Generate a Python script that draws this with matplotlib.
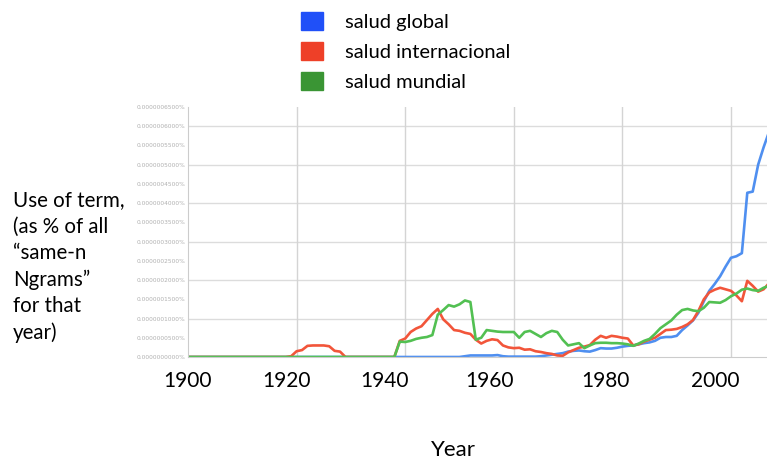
import matplotlib
matplotlib.use('Agg')
import numpy as np
import matplotlib.pyplot as plt
from matplotlib.patches import Patch

# Values in units of 0.0000001 % (one major gridline)
years = list(range(1900, 2008))

global_vals = [0.0] * 51 + [
    0.02, 0.04, 0.04, 0.04, 0.04, 0.04, 0.05, 0.02, 0.01, 0.01,   # 1951-1960
    0.01, 0.01, 0.01, 0.01, 0.02, 0.04, 0.06, 0.08, 0.10, 0.14,   # 1961-1970
    0.16, 0.17, 0.15, 0.14, 0.18, 0.23, 0.22, 0.22, 0.24, 0.27,   # 1971-1980
    0.29, 0.30, 0.33, 0.36, 0.38, 0.42, 0.50, 0.52, 0.52, 0.55,   # 1981-1990
    0.70, 0.82, 0.95, 1.15, 1.45, 1.72, 1.90, 2.10, 2.35, 2.58,   # 1991-2000
    2.62, 2.70, 4.27, 4.30, 5.00, 5.45, 5.85]                     # 2001-2007

internacional_vals = [0.0] * 19 + [
    0.02, 0.15, 0.18, 0.29, 0.30, 0.30, 0.30, 0.28, 0.16, 0.14,   # 1919-1928
    0.0, 0.0, 0.0, 0.0, 0.0, 0.0, 0.0, 0.0, 0.0, 0.0,             # 1929-1938
    0.42, 0.48, 0.65, 0.74, 0.80, 0.96, 1.12, 1.25, 0.98, 0.85,   # 1939-1948
    0.70, 0.68, 0.63, 0.60, 0.45, 0.35, 0.42, 0.46, 0.44, 0.30,   # 1949-1958
    0.25, 0.23, 0.24, 0.19, 0.20, 0.15, 0.13, 0.10, 0.08, 0.04,   # 1959-1968
    0.03, 0.12, 0.18, 0.24, 0.27, 0.31, 0.45, 0.55, 0.50, 0.55,   # 1969-1978
    0.53, 0.50, 0.48, 0.30, 0.33, 0.40, 0.45, 0.50, 0.60, 0.70,   # 1979-1988
    0.71, 0.73, 0.78, 0.85, 0.96, 1.20, 1.50, 1.68, 1.75, 1.80,   # 1989-1998
    1.76, 1.72, 1.60, 1.45, 1.98, 1.85, 1.70, 1.76, 1.92]         # 1999-2007

mundial_vals = [0.0] * 39 + [
    0.40, 0.39, 0.42, 0.47, 0.50, 0.52, 0.57, 1.10, 1.22, 1.35,   # 1939-1948
    1.31, 1.37, 1.47, 1.43, 0.45, 0.50, 0.70, 0.68, 0.66, 0.65,   # 1949-1958
    0.65, 0.65, 0.50, 0.65, 0.68, 0.60, 0.52, 0.62, 0.68, 0.65,   # 1959-1968
    0.45, 0.30, 0.33, 0.36, 0.23, 0.30, 0.36, 0.37, 0.37, 0.36,   # 1969-1978
    0.36, 0.35, 0.33, 0.29, 0.35, 0.42, 0.47, 0.60, 0.75, 0.85,   # 1979-1988
    0.95, 1.10, 1.22, 1.25, 1.21, 1.19, 1.28, 1.43, 1.42, 1.41,   # 1989-1998
    1.48, 1.58, 1.65, 1.75, 1.78, 1.74, 1.72, 1.80, 1.85]         # 1999-2007

series_names = ['salud global', 'salud internacional', 'salud mundial']
line_colors = ['#4f8ff0', '#f2553a', '#52c052']
legend_colors = ['#2050f8', '#ee4028', '#3a9534']

year_labels = ['1900', '1920', '1940', '1960', '1980', '2000']
year_label_px = [188, 287, 385, 490, 605, 715]   # overlay label centres (pixels)

W, H = 767, 462
fig = plt.figure(figsize=(W / 100, H / 100), dpi=100)
ax = fig.add_axes([188 / W, 1 - 357 / H, 1 - 188 / W, (357 - 107) / H])

for vals, col in zip([global_vals, internacional_vals, mundial_vals], line_colors):
    ax.plot(years, vals, color=col, lw=1.9, solid_joinstyle='round')

ax.set_xlim(1900, 1900 + (W - 188) / 5.43)
ax.set_ylim(0, 6.5)
ax.set_xticks(range(1900, 2001, 20))
ax.set_xticklabels([])
ax.tick_params(axis='x', length=0)
ax.set_yticks(np.arange(0, 6.51, 0.5))
ax.set_yticklabels(['%.10f%%' % (v * 1e-7) for v in np.arange(0, 6.51, 0.5)],
                   fontsize=4.2, color='#b0b0b0')
ax.tick_params(axis='y', length=0, pad=2)
for v in range(1, 7):
    ax.axhline(v, color='#dcdcdc', lw=1, zorder=0)
for yr in range(1920, 2001, 20):
    ax.axvline(yr, color='#d4d4d4', lw=1, zorder=0)
for s in ['top', 'right']:
    ax.spines[s].set_visible(False)
ax.spines['left'].set_color('#cccccc')
ax.spines['bottom'].set_color('#cccccc')

font = 'Lato'
handles = [Patch(facecolor=c, edgecolor=c) for c in legend_colors]
fig.legend(handles, series_names, loc='upper left', bbox_to_anchor=(301 / W, 1 - 12 / H),
           frameon=False, prop={'family': font, 'size': 14.5}, handlelength=1.1,
           handleheight=1.0, handletextpad=1.1, labelspacing=0.56,
           borderpad=0, borderaxespad=0)

fig.text(13 / W, 1 - 190 / H,
         'Use of term,\n(as % of all\n\u201csame-n\nNgrams\u201d\nfor that\nyear)',
         family=font, fontsize=14.8, va='top', ha='left', linespacing=1.4)

for lab, px in zip(year_labels, year_label_px):
    fig.text(px / W, 1 - 381 / H, lab, family=font, fontsize=15, ha='center', va='center')

fig.text(453 / W, 1 - 450 / H, 'Year', family=font, fontsize=16, ha='center', va='center')

fig.savefig('out.png', dpi=100)
